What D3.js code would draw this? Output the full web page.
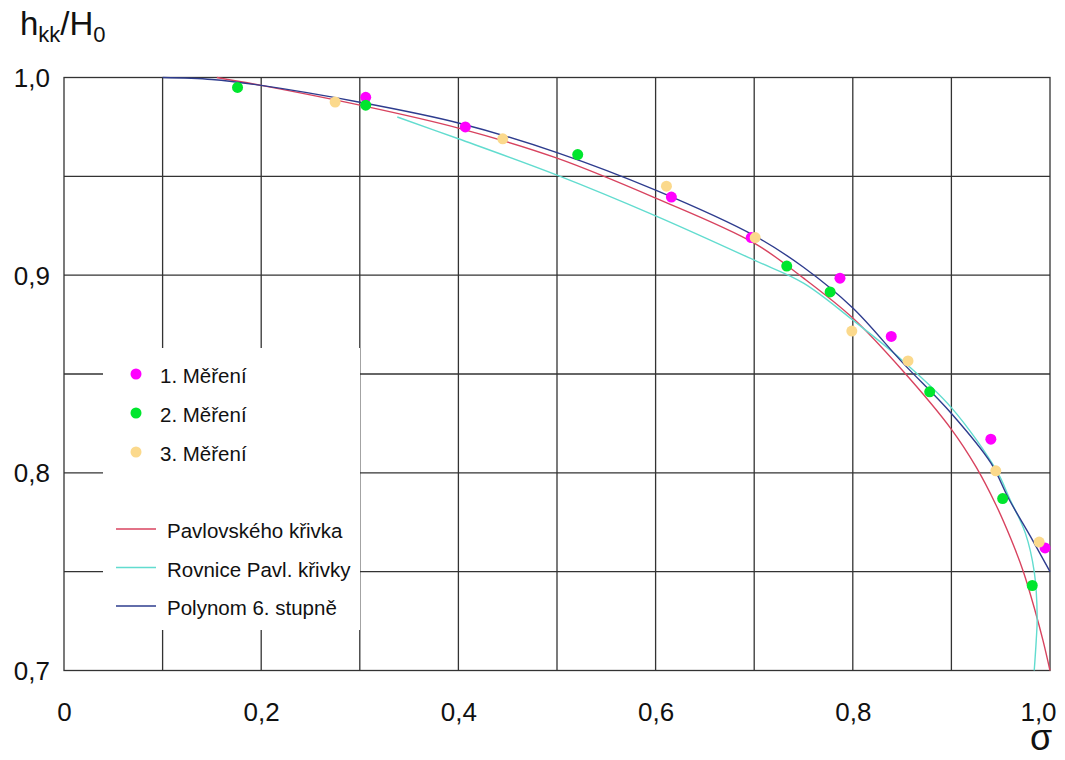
<!DOCTYPE html>
<html>
<head>
<meta charset="utf-8">
<script src="https://cdn.jsdelivr.net/npm/d3@7"></script>
<style>
  html, body { margin: 0; padding: 0; background: #fff; }
  svg { display: block; font-family: Arial, "Liberation Sans", sans-serif; }
</style>
</head>
<body>
<svg id="chart" width="1065" height="760"></svg>
<script>
// ---- data ----
const xTickValues = [0, 0.2, 0.4, 0.6, 0.8, 1.0];
const xTickLabels = ["0", "0,2", "0,4", "0,6", "0,8", "1,0"];
const yTickValues = [0.7, 0.8, 0.9, 1.0];
const yTickLabels = ["0,7", "0,8", "0,9", "1,0"];

const seriesNames = ["1. Měření", "2. Měření", "3. Měření"];
const mereni1 = [[0.306,0.990],[0.407,0.975],[0.616,0.9395],[0.697,0.919],[0.787,0.8985],[0.839,0.869],[0.940,0.817],[0.995,0.762]];
const mereni2 = [[0.176,0.995],[0.306,0.986],[0.521,0.961],[0.733,0.9046],[0.777,0.8915],[0.878,0.841],[0.952,0.787],[0.982,0.743]];
const mereni3 = [[0.275,0.9876],[0.445,0.969],[0.611,0.945],[0.701,0.919],[0.799,0.8717],[0.856,0.8566],[0.945,0.801],[0.989,0.765]];

const lineNames = ["Pavlovského křivka", "Rovnice Pavl. křivky", "Polynom 6. stupně"];
const pavlovskeho = [[0.155,1.000],[0.2,0.996],[0.3,0.986],[0.4,0.9744],[0.5,0.9592],[0.6,0.939],[0.7,0.9162],[0.75,0.8985],[0.8,0.8783],[0.85,0.852],[0.9,0.822],[0.925,0.803],[0.945,0.784],[0.96,0.767],[0.973,0.750],[0.985,0.730],[0.993,0.715],[1.0,0.700]];
const rovnice = [[0.338,0.980],[0.4,0.969],[0.5,0.9506],[0.6,0.930],[0.7,0.9076],[0.75,0.896],[0.8,0.8773],[0.85,0.857],[0.9,0.833],[0.946,0.801],[0.959,0.787],[0.975,0.7695],[0.984,0.750],[0.987,0.727],[0.986,0.715],[0.984,0.700]];
const polynom = [[0.1,1.000],[0.15,0.999],[0.2,0.996],[0.3,0.9875],[0.4,0.977],[0.5,0.962],[0.6,0.943],[0.7,0.920],[0.75,0.904],[0.8,0.8834],[0.85,0.856],[0.9,0.830],[0.94,0.805],[0.958,0.787],[0.98,0.768],[1.0,0.750]];

// ---- styles ----
const dotColors = ["#ff00ff", "#00e62e", "#fbd98c"];
const lineColors = ["#d8435f", "#62dccf", "#2e3c8e"];

const svg = d3.select("#chart");
const x = d3.scaleLinear().domain([0, 1]).range([64, 1050]);
const y = d3.scaleLinear().domain([0.7, 1.0]).range([670.5, 77.5]);

// grid
const gridColor = "#333333";
const g = svg.append("g");
g.selectAll("line.vx").data(d3.range(1, 10).map(i => i / 10)).join("line")
  .attr("x1", d => x(d)).attr("x2", d => x(d))
  .attr("y1", y(0.7)).attr("y2", y(1.0))
  .attr("stroke", gridColor).attr("stroke-width", 1.3);
g.selectAll("line.hy").data(d3.range(1, 6).map(i => 0.7 + i * 0.05)).join("line")
  .attr("x1", x(0)).attr("x2", x(1))
  .attr("y1", d => y(d)).attr("y2", d => y(d))
  .attr("stroke", gridColor).attr("stroke-width", 1.3);
// frame
svg.append("rect")
  .attr("x", x(0)).attr("y", y(1.0))
  .attr("width", x(1) - x(0)).attr("height", y(0.7) - y(1.0))
  .attr("fill", "none").attr("stroke", gridColor).attr("stroke-width", 1.3);

// legend background
svg.append("rect").attr("x", 103).attr("y", 348).attr("width", 257).attr("height", 282).attr("fill", "#fff");

// axes labels
const xAxis = d3.axisBottom(x).tickValues(xTickValues)
  .tickFormat((d, i) => xTickLabels[i]).tickSize(0).tickPadding(0);
const xa = svg.append("g").attr("transform", `translate(0,${y(0.7)})`).call(xAxis);
xa.select(".domain").remove();
xa.selectAll("text").attr("font-size", 26).attr("fill", "#111")
  .attr("font-family", "Arial, 'Liberation Sans', sans-serif")
  .attr("dy", null).attr("y", 50)
  .attr("dx", (d, i) => i === xTickValues.length - 1 ? -12 : 0);

const yAxis = d3.axisLeft(y).tickValues(yTickValues)
  .tickFormat((d, i) => yTickLabels[i]).tickSize(0).tickPadding(0);
const ya = svg.append("g").attr("transform", `translate(0,0)`).call(yAxis);
ya.select(".domain").remove();
ya.selectAll("text").attr("font-size", 26).attr("fill", "#111")
  .attr("font-family", "Arial, 'Liberation Sans', sans-serif")
  .attr("text-anchor", "end").attr("x", 50).attr("dy", null).attr("y", 9);

// axis titles
const t = svg.append("text").attr("x", 20).attr("y", 35).attr("font-size", 33).attr("fill", "#111");
t.append("tspan").text("h");
t.append("tspan").text("kk").attr("font-size", 22).attr("dy", 7);
t.append("tspan").text("/H").attr("dy", -7);
t.append("tspan").text("0").attr("font-size", 22).attr("dy", 7);
svg.append("text").attr("x", 1041).attr("y", 750).attr("text-anchor", "middle")
  .attr("font-size", 36).attr("fill", "#111").text("σ");

// curves
const line = d3.line().x(d => x(d[0])).y(d => y(d[1])).curve(d3.curveCatmullRom.alpha(0.5));
[pavlovskeho, rovnice, polynom].forEach((data, i) => {
  svg.append("path").datum(data).attr("d", line)
    .attr("fill", "none").attr("stroke", lineColors[i]).attr("stroke-width", 1.4);
});

// points
[mereni1, mereni2, mereni3].forEach((data, i) => {
  svg.append("g").selectAll("circle").data(data).join("circle")
    .attr("cx", d => x(d[0])).attr("cy", d => y(d[1])).attr("r", 5.5)
    .attr("fill", dotColors[i]);
});

// legend
const leg = svg.append("g").attr("font-size", 20.5).attr("fill", "#111");
seriesNames.forEach((name, i) => {
  const cy = 374 + i * 39;
  leg.append("circle").attr("cx", 136).attr("cy", cy).attr("r", 5.5).attr("fill", dotColors[i]);
  leg.append("text").attr("x", 160).attr("y", cy + 9).text(name);
});
lineNames.forEach((name, i) => {
  const ly = 529 + i * 38.5;
  leg.append("line").attr("x1", 116).attr("x2", 156).attr("y1", ly).attr("y2", ly)
    .attr("stroke", lineColors[i]).attr("stroke-width", 1.4);
  leg.append("text").attr("x", 167).attr("y", ly + 9).text(name);
});
</script>
</body>
</html>
